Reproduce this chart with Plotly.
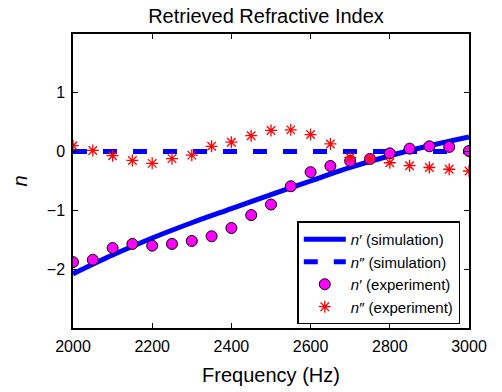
import plotly.graph_objects as go

# Simulation curves (smooth)
sim_freq = [2000, 2100, 2200, 2300, 2400, 2500, 2600, 2700, 2800, 2900, 3000]
sim_n_real = [-2.08, -1.76, -1.47, -1.21, -0.97, -0.73, -0.50, -0.27, -0.07, 0.10, 0.25]
sim_n_imag = [0, 0, 0, 0, 0, 0, 0, 0, 0, 0, 0]

# Experimental points
exp_freq = [2000, 2050, 2100, 2150, 2200, 2250, 2300, 2350, 2400, 2450, 2500,
            2550, 2600, 2650, 2700, 2750, 2800, 2850, 2900, 2950, 3000]
exp_n_real = [-1.88, -1.84, -1.64, -1.57, -1.60, -1.57, -1.52, -1.44, -1.30, -1.08, -0.90,
              -0.59, -0.35, -0.245, -0.16, -0.125, -0.03, 0.05, 0.09, 0.08, 0.01]
exp_n_imag = [0.10, 0.02, -0.07, -0.15, -0.20, -0.12, -0.06, 0.09, 0.16, 0.27, 0.36,
              0.37, 0.29, 0.13, -0.10, -0.125, -0.19, -0.24, -0.27, -0.30, -0.33]

x_ticks = [2000, 2200, 2400, 2600, 2800, 3000]
y_ticks = [-2, -1, 0, 1]

FONT = "Liberation Sans, Arial, Helvetica, sans-serif"

fig = go.Figure()
fig.add_trace(go.Scatter(x=sim_freq, y=sim_n_real, mode="lines", line=dict(color="#0000FF", width=5, shape="spline"),
                         name="<i>n</i>′ (simulation)"))
fig.add_trace(go.Scatter(x=sim_freq, y=sim_n_imag, mode="lines", line=dict(color="#0000FF", width=5, dash="14px,16px"),
                         name="<i>n</i>″ (simulation)"))
fig.add_trace(go.Scatter(x=exp_freq, y=exp_n_real, mode="markers",
                         marker=dict(symbol="circle", size=11, color="#FF00FF", line=dict(color="black", width=1)),
                         name="<i>n</i>′ (experiment)"))
fig.add_trace(go.Scatter(x=exp_freq, y=exp_n_imag, mode="markers",
                         marker=dict(symbol="asterisk-open", size=10, color="red", line=dict(color="red", width=1.3)),
                         name="<i>n</i>″ (experiment)"))

axis_common = dict(showline=True, linecolor="black", linewidth=1.5, mirror="ticks", ticks="inside",
                   ticklen=5, tickwidth=1, tickcolor="black", showgrid=False, zeroline=False,
                   automargin=False,
                   tickfont=dict(family=FONT, size=16, color="black"))

fig.update_layout(
    width=502, height=392,
    margin=dict(l=73, r=33, t=34, b=64, autoexpand=False),
    paper_bgcolor="white", plot_bgcolor="white",
    font=dict(family=FONT, color="black"),
    title=dict(text="Retrieved Refractive Index", font=dict(family=FONT, size=20, color="black"),
               x=266 / 502, xanchor="center", xref="container",
               y=1 - 16 / 392, yanchor="middle", yref="container"),
    xaxis=dict(range=[2000, 3000], tickvals=x_ticks, ticklabelstandoff=3,
               title=dict(text="Frequency (Hz)", font=dict(family=FONT, size=20), standoff=14),
               **axis_common),
    yaxis=dict(range=[-3, 2], tickvals=y_ticks, ticklabelstandoff=3,
               title=dict(text="<i>n</i>", font=dict(family=FONT, size=20), standoff=14),
               **axis_common),
    legend=dict(x=0.978, xanchor="right", y=0.012, yanchor="bottom", bgcolor="white",
                bordercolor="black", borderwidth=1.5, font=dict(family=FONT, size=15, color="black"),
                tracegroupgap=0, itemwidth=42),
    showlegend=True,
)

fig.write_html("out.html", config={"displayModeBar": False},
               post_script="document.body.style.margin='0';")
